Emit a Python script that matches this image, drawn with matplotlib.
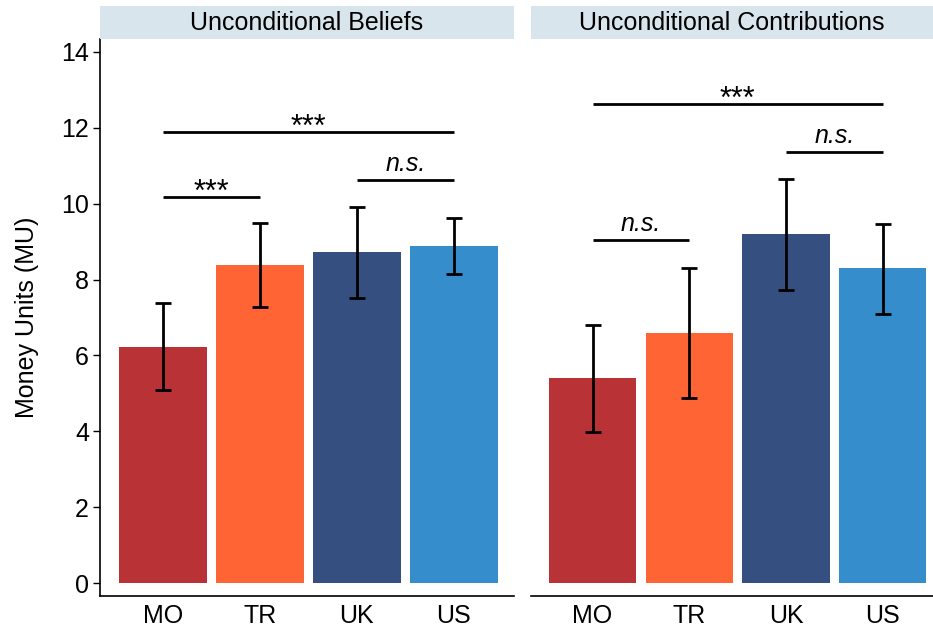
import matplotlib.pyplot as plt

plt.rcParams['font.family'] = ['Liberation Sans', 'DejaVu Sans']

# 国家与颜色
countries = ['MO', 'TR', 'UK', 'US']
colors = ['#B83236', '#FF6435', '#344F80', '#368DCC']

# 面板标题
panels = ['Unconditional Beliefs', 'Unconditional Contributions']

# 均值与置信区间
beliefs = [6.22, 8.38, 8.73, 8.88]
beliefs_lo = [5.09, 7.28, 7.51, 8.15]
beliefs_hi = [7.38, 9.49, 9.91, 9.62]

contribs = [5.40, 6.59, 9.20, 8.30]
contribs_lo = [3.98, 4.88, 7.72, 7.09]
contribs_hi = [6.80, 8.30, 10.65, 9.46]

# 显著性标注: (起点, 终点, 高度, 文本)
beliefs_sig = [(0, 1, 10.18, '***'), (2, 3, 10.62, 'n.s.'), (0, 3, 11.89, '***')]
contribs_sig = [(0, 1, 9.04, 'n.s.'), (2, 3, 11.36, 'n.s.'), (0, 3, 12.63, '***')]

fig = plt.figure(figsize=(9.33, 6.3), dpi=100)
W, H = 933, 630
FS = 18


def px_axes(x0, x1, y0, y1):
    return fig.add_axes([x0 / W, 1 - y1 / H, (x1 - x0) / W, (y1 - y0) / H])


def draw_panel(ax, vals, lo, hi, sigs, show_y):
    x = list(range(1, len(countries) + 1))
    ax.bar(x, vals, width=0.9, color=colors, zorder=2)
    for xi, v, l, h in zip(x, vals, lo, hi):
        ax.errorbar(xi, v, yerr=[[v - l], [h - v]], color='black', lw=2,
                    capsize=6, capthick=2, zorder=3)
    for a, b, y, txt in sigs:
        ax.plot([x[a], x[b]], [y, y], color='black', lw=2, solid_capstyle='butt')
        if txt == 'n.s.':
            ax.text((x[a] + x[b]) / 2, y + 0.12, txt, ha='center', va='bottom',
                    fontsize=FS, style='italic')
        else:
            ax.text((x[a] + x[b]) / 2, y - 0.3, txt, ha='center', va='bottom',
                    fontsize=FS + 4)
    ax.set_ylim(-0.34, 14.34)
    ax.set_xticks(x)
    ax.set_xticklabels(countries, fontsize=FS)
    ax.tick_params(axis='x', length=0, pad=6)
    for s in ['top', 'right']:
        ax.spines[s].set_visible(False)
    ax.spines['bottom'].set_linewidth(1.2)
    if show_y:
        ax.set_yticks([0, 2, 4, 6, 8, 10, 12, 14])
        ax.tick_params(axis='y', labelsize=FS, length=5, width=1, pad=3)
        ax.spines['left'].set_linewidth(1.2)
        ax.set_ylabel('Money Units (MU)', fontsize=FS, labelpad=16)
    else:
        ax.spines['left'].set_visible(False)
        ax.set_yticks([])


def draw_strip(x0, x1, title):
    s = px_axes(x0, x1, 6, 39)
    s.set_facecolor('#D9E5EC')
    s.set_xticks([])
    s.set_yticks([])
    for sp in s.spines.values():
        sp.set_visible(False)
    s.text(0.5, 0.5, title, ha='center', va='center', fontsize=FS,
           transform=s.transAxes)


ax1 = px_axes(100, 514, 39, 596)
ax1.set_xlim(0.35, 4.62)
draw_panel(ax1, beliefs, beliefs_lo, beliefs_hi, beliefs_sig, True)
draw_strip(100, 514, panels[0])

ax2 = px_axes(531, 933, 39, 596)
ax2.set_xlim(0.364, 4.52)
draw_panel(ax2, contribs, contribs_lo, contribs_hi, contribs_sig, False)
draw_strip(531, 933, panels[1])

fig.savefig('out.png', dpi=100)
